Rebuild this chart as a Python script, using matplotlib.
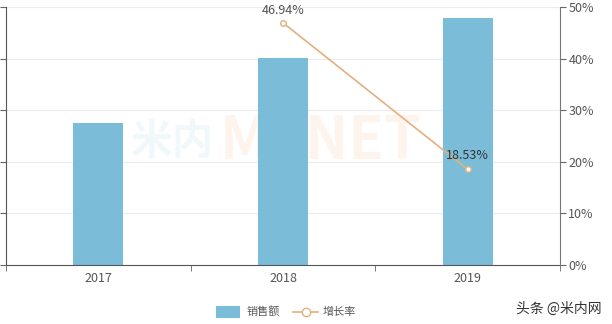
import matplotlib.pyplot as plt
import numpy as np

plt.rcParams['font.family'] = ['Noto Sans CJK SC', 'DejaVu Sans']

years = ["2017", "2018", "2019"]
sales = [2.76, 4.01, 4.78]          # left axis, labels not shown in source
growth = [None, 46.94, 18.53]       # %
growth_labels = ["", "46.94%", "18.53%"]

fig = plt.figure(figsize=(6.12, 3.24), dpi=100)
ax = fig.add_axes([6 / 612, 1 - 265 / 324, 554 / 612, 258 / 324])
ax2 = ax.twinx()

x = np.arange(len(years))
ax.bar(x, sales, width=0.27, color="#7bbcd9", zorder=2)
ax.set_xlim(-0.5, 2.5)
ax.set_ylim(0, 5)
ax.set_yticks(np.arange(0, 6, 1))
ax.set_yticklabels([])
ax.grid(axis="y", color="#ececec", linewidth=0.8, zorder=0)
ax.set_axisbelow(True)
ax.set_xticks(x)
ax.set_xticklabels(years, fontsize=9, color="#555555")
ax.set_xticks([-0.5, 0.5, 1.5, 2.5], minor=True)
ax.tick_params(axis="x", which="major", length=0, pad=5)
ax.tick_params(axis="x", which="minor", length=4, color="#666666")
ax.tick_params(axis="y", length=4, color="#666666", direction="out")
for s in ["top", "right"]:
    ax.spines[s].set_visible(False)
ax.spines["left"].set_color("#555555")
ax.spines["bottom"].set_color("#555555")

# watermark, behind the bars
ax.text(0.376, 0.475, "米内", fontsize=30, color="#7bbcd9", alpha=0.10,
        ha="right", va="center", fontweight="bold", zorder=1, transform=ax.transAxes)
ax.text(0.385, 0.475, "MENET", fontsize=42, color="#f0a050", alpha=0.10,
        ha="left", va="center", fontweight="bold", zorder=1, transform=ax.transAxes)

gx = [i for i, g in enumerate(growth) if g is not None]
gy = [g for g in growth if g is not None]
ax2.plot(gx, gy, color="#e3b07e", linewidth=1.2, marker="o", markersize=4,
         markerfacecolor="white", markeredgecolor="#e3b07e", zorder=3)
ax2.set_ylim(0, 50)
ax2.set_yticks(np.arange(0, 60, 10))
ax2.set_yticklabels([f"{v}%" for v in range(0, 60, 10)], fontsize=9, color="#555555")
ax2.tick_params(axis="y", length=4, color="#666666", pad=2)
for s in ["top", "left", "bottom"]:
    ax2.spines[s].set_visible(False)
ax2.spines["right"].set_color("#777777")

ax2.text(1, 48.0, growth_labels[1], ha="center", va="bottom", fontsize=9, color="#555555")
ax2.text(2, 20.0, growth_labels[2], ha="center", va="bottom", fontsize=9, color="#333333")

# legend
lax = fig.add_axes([0, 0, 1, 1], facecolor="none")
lax.set_xlim(0, 612)
lax.set_ylim(324, 0)
lax.axis("off")
lax.add_patch(plt.Rectangle((216, 306), 24, 12, color="#7bbcd9", linewidth=0))
lax.text(247, 312, "销售额", fontsize=8, color="#555555", va="center")
lax.plot([293, 318], [312, 312], color="#e3b07e", linewidth=1.2)
lax.plot([305.5], [312], marker="o", markersize=6, markerfacecolor="white",
         markeredgecolor="#e3b07e")
lax.text(323, 312, "增长率", fontsize=8, color="#555555", va="center")
lax.text(602, 309, "头条 @米内网", fontsize=10, color="#333333", ha="right", va="center")

fig.savefig("out.png", dpi=100)
